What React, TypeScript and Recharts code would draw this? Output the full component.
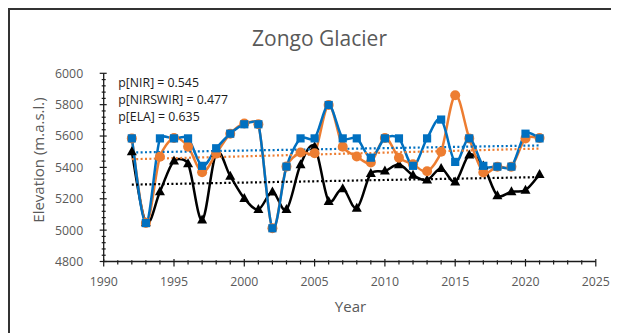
import React from 'react';
import { LineChart, Line, XAxis, YAxis } from 'recharts';

const years = [1992, 1993, 1994, 1995, 1996, 1997, 1998, 1999, 2000, 2001, 2002, 2003, 2004, 2005, 2006, 2007, 2008, 2009, 2010, 2011, 2012, 2013, 2014, 2015, 2016, 2017, 2018, 2019, 2020, 2021];
const nir = [5585, 5045, 5585, 5585, 5585, 5410, 5522, 5615, 5675, 5675, 5012, 5405, 5585, 5585, 5798, 5585, 5585, 5462, 5585, 5585, 5410, 5585, 5705, 5435, 5585, 5410, 5405, 5405, 5615, 5585];
const nirswir = [5585, 5045, 5468, 5588, 5532, 5369, 5488, 5615, 5680, 5675, 5012, 5405, 5495, 5490, 5798, 5532, 5469, 5432, 5588, 5462, 5420, 5375, 5500, 5860, 5585, 5368, 5404, 5404, 5585, 5588];
const ela = [5500, 5048, 5245, 5442, 5424, 5065, 5490, 5345, 5203, 5132, 5243, 5132, 5418, 5532, 5184, 5265, 5140, 5362, 5377, 5418, 5350, 5320, 5393, 5308, 5480, 5410, 5220, 5245, 5255, 5355];

const trendYears = [1992, 2021];
const nirTrend = [5495, 5540];
const nirswirTrend = [5452, 5520];
const elaTrend = [5290, 5338];

const xMajorTicks = [1990, 1995, 2000, 2005, 2010, 2015, 2020, 2025];
const yMajorTicks = [4800, 5000, 5200, 5400, 5600, 5800, 6000];
const correlationLabels = ['p[NIR] = 0.545', 'p[NIRSWIR] = 0.477', 'p[ELA] = 0.635'];
const title = 'Zongo Glacier';
const xTitle = 'Year';
const yTitle = 'Elevation (m.a.s.l.)';

const BLUE = '#0070C0';
const ORANGE = '#ED7D31';
const BLACK = '#000000';
const GRAY = '#595959';
const FONT = "'Open Sans', sans-serif";

const W = 611;
const H = 325;
const PLOT_LEFT = 95.7;
const PLOT_RIGHT = 587.8;
const PLOT_TOP = 65.3;
const PLOT_BOTTOM = 253.5;
const XAXIS_H = 30;

const xMinorTicks: number[] = [];
for (let i = 0; i < xMajorTicks.length - 1; i++) {
  for (let v = xMajorTicks[i]; v < xMajorTicks[i + 1]; v++) xMinorTicks.push(v);
}
xMinorTicks.push(xMajorTicks[xMajorTicks.length - 1]);
const yMinorTicks: number[] = [];
for (let i = 0; i < yMajorTicks.length - 1; i++) {
  for (let v = yMajorTicks[i]; v < yMajorTicks[i + 1]; v += 40) yMinorTicks.push(v);
}
yMinorTicks.push(yMajorTicks[yMajorTicks.length - 1]);

const table = years.map((y, i) => ({ year: y, nir: nir[i], nirswir: nirswir[i], ela: ela[i] }));
const trendTable = trendYears.map((y, i) => ({ year: y, nirT: nirTrend[i], nirswirT: nirswirTrend[i], elaT: elaTrend[i] }));

// Catmull-Rom style smoothing whose control handles are clamped to a fraction of the segment length.
const CLAMP = 0.35;
function clampVec(v: number[], max: number) {
  const l = Math.hypot(v[0], v[1]);
  if (l <= max || l === 0) return v;
  return [(v[0] / l) * max, (v[1] / l) * max];
}
function excelSmooth(context: any) {
  let pts: number[][] = [];
  return {
    areaStart() {},
    areaEnd() {},
    lineStart() {
      pts = [];
    },
    point(x: number, y: number) {
      pts.push([+x, +y]);
    },
    lineEnd() {
      const n = pts.length;
      if (!n) return;
      context.moveTo(pts[0][0], pts[0][1]);
      for (let i = 0; i < n - 1; i++) {
        const p0 = pts[i === 0 ? 0 : i - 1];
        const p1 = pts[i];
        const p2 = pts[i + 1];
        const p3 = pts[i + 2 < n ? i + 2 : n - 1];
        const L = Math.hypot(p2[0] - p1[0], p2[1] - p1[1]) * CLAMP;
        const a = clampVec([(p2[0] - p0[0]) / 6, (p2[1] - p0[1]) / 6], L);
        const b = clampVec([(p3[0] - p1[0]) / 6, (p3[1] - p1[1]) / 6], L);
        context.bezierCurveTo(p1[0] + a[0], p1[1] + a[1], p2[0] - b[0], p2[1] - b[1], p2[0], p2[1]);
      }
    },
  };
}

const XTick = (props: any) => {
  const { x, payload } = props;
  const v = payload.value;
  const major = xMajorTicks.includes(v);
  const y = PLOT_BOTTOM;
  return (
    <g>
      <line x1={x} x2={x} y1={major ? y - 2.5 : y - 1.2} y2={major ? y + 5 : y + 3} stroke="#1a1a1a" strokeWidth={1.2} />
      {major && (
        <text x={x} y={y + 24.6} textAnchor="middle" fontFamily={FONT} fontSize={12.3} fill={GRAY}>
          {v}
        </text>
      )}
    </g>
  );
};

const YTick = (props: any) => {
  const { y, payload } = props;
  const v = payload.value;
  const major = yMajorTicks.includes(v);
  const x = PLOT_LEFT;
  return (
    <g>
      <line x1={major ? x - 4 : x - 2} x2={major ? x + 3 : x + 2} y1={y} y2={y} stroke="#1a1a1a" strokeWidth={1.2} />
      {major && (
        <text x={x - 20.5} y={y + 4.4} textAnchor="end" fontFamily={FONT} fontSize={12.3} fill={GRAY}>
          {v}
        </text>
      )}
    </g>
  );
};

const SquareDot = (props: any) => {
  const { cx, cy, index } = props;
  if (cx == null || cy == null) return <g key={`s${index}`} />;
  const s = 8.2;
  return <rect key={`s${index}`} x={cx - s / 2} y={cy - s / 2} width={s} height={s} fill={BLUE} />;
};

const CircleDot = (props: any) => {
  const { cx, cy, index } = props;
  if (cx == null || cy == null) return <g key={`c${index}`} />;
  return <circle key={`c${index}`} cx={cx} cy={cy} r={5} fill={ORANGE} />;
};

const TriangleDot = (props: any) => {
  const { cx, cy, index } = props;
  if (cx == null || cy == null) return <g key={`t${index}`} />;
  const w = 10;
  const h = 9;
  const d = `M${cx},${cy - h * 0.6} L${cx + w / 2},${cy + h * 0.4} L${cx - w / 2},${cy + h * 0.4} Z`;
  return <path key={`t${index}`} d={d} fill={BLACK} />;
};

export default function App() {
  return (
    <div style={{ position: 'relative', width: W, height: H, overflow: 'hidden' }}>
      <div
        style={{
          position: 'absolute',
          left: 0,
          top: 0,
          width: 800,
          height: 500,
          borderLeft: '2px solid #333',
          borderTop: '2px solid #333',
          boxSizing: 'border-box',
        }}
      />
      <div style={{ position: 'absolute', left: 0, top: 0 }}>
        <LineChart
          width={W}
          height={H}
          data={table}
          margin={{ top: PLOT_TOP, right: W - PLOT_RIGHT, left: 0, bottom: H - PLOT_BOTTOM - XAXIS_H }}
        >
          <XAxis
            dataKey="year"
            type="number"
            domain={[1990, 2025]}
            ticks={xMinorTicks}
            interval={0}
            height={XAXIS_H}
            tickSize={0}
            tickMargin={0}
            tickLine={false}
            axisLine={{ stroke: '#1a1a1a', strokeWidth: 1.3 }}
            tick={(p: any) => <XTick {...p} />}
            allowDataOverflow
          />
          <YAxis
            type="number"
            domain={[4800, 6000]}
            ticks={yMinorTicks}
            interval={0}
            width={PLOT_LEFT}
            tickSize={0}
            tickMargin={0}
            tickLine={false}
            axisLine={{ stroke: '#1a1a1a', strokeWidth: 1.3 }}
            tick={(p: any) => <YTick {...p} />}
            allowDataOverflow
          />
          <Line
            dataKey="ela"
            type={excelSmooth as any}
            stroke={BLACK}
            strokeWidth={2.5}
            dot={(p: any) => <TriangleDot {...p} key={`t${p.index}`} />}
            activeDot={false}
            isAnimationActive={false}
          />
          <Line
            dataKey="nirswir"
            type={excelSmooth as any}
            stroke={ORANGE}
            strokeWidth={2.5}
            dot={(p: any) => <CircleDot {...p} key={`c${p.index}`} />}
            activeDot={false}
            isAnimationActive={false}
          />
          <Line
            dataKey="nir"
            type={excelSmooth as any}
            stroke={BLUE}
            strokeWidth={2.5}
            dot={(p: any) => <SquareDot {...p} key={`s${p.index}`} />}
            activeDot={false}
            isAnimationActive={false}
          />
          <Line data={trendTable} dataKey="nirT" type="linear" stroke={BLUE} strokeWidth={2.2} strokeDasharray="2 2.4" dot={false} activeDot={false} isAnimationActive={false} />
          <Line data={trendTable} dataKey="nirswirT" type="linear" stroke={ORANGE} strokeWidth={2.2} strokeDasharray="2 2.4" dot={false} activeDot={false} isAnimationActive={false} />
          <Line data={trendTable} dataKey="elaT" type="linear" stroke={BLACK} strokeWidth={2.2} strokeDasharray="2 2.4" dot={false} activeDot={false} isAnimationActive={false} />
        </LineChart>
      </div>
      <svg width={W} height={H} style={{ position: 'absolute', left: 0, top: 0, pointerEvents: 'none' }}>
        <text x={311.5} y={38} textAnchor="middle" fontFamily={FONT} fontSize={21} fill={GRAY}>
          {title}
        </text>
        {correlationLabels.map((t, i) => (
          <text key={t} x={110.3} y={78.7 + i * 17} fontFamily={FONT} fontSize={12.3} fill="#1a1a1a">
            {t}
          </text>
        ))}
        <text
          x={30}
          y={152}
          textAnchor="middle"
          dominantBaseline="central"
          transform="rotate(-90 30 152)"
          fontFamily={FONT}
          fontSize={15}
          fill={GRAY}
        >
          {yTitle}
        </text>
        <text x={342.5} y={303.7} textAnchor="middle" fontFamily={FONT} fontSize={15} fill={GRAY}>
          {xTitle}
        </text>
      </svg>
    </div>
  );
}
